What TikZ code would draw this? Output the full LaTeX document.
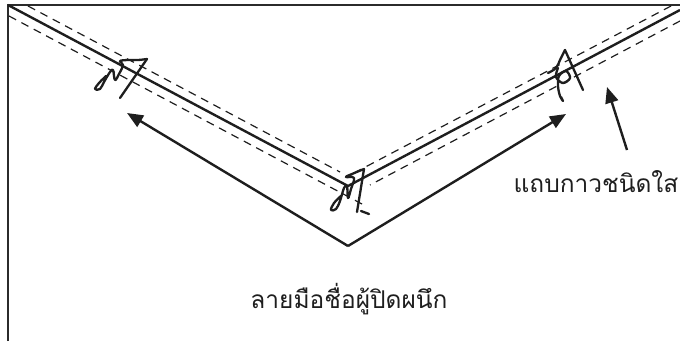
\documentclass[tikz,border=0pt]{standalone}
\usepackage{fontspec}
\newfontfamily\thaifont[Script=Thai]{Loma}
\usetikzlibrary{arrows.meta}
\definecolor{ink}{HTML}{1E1E1E}
\definecolor{frame}{HTML}{2B2B2B}
\tikzset{
  framestyle/.style={draw=frame,line width=2.8pt},
  creaseline/.style={draw=ink,line width=2.4pt},
  tapeedge/.style={draw=ink,line width=1.2pt,dash pattern=on 8pt off 6pt},
  pointer/.style={draw=ink,line width=2.4pt,-{Triangle[length=16pt,width=13pt]}},
  signature/.style={draw=ink,line width=2.3pt,line cap=round,line join=round},
  labeltext/.style={text=ink,font=\thaifont\fontsize{24.5pt}{28pt}\selectfont,inner sep=0pt}
}
\begin{document}
\begin{tikzpicture}[x=1pt,y=-1pt]
\useasboundingbox (0,0) rectangle (680,341);
% frame
\coordinate (fb) at (8,341);
\coordinate (fc) at (8,5);
\coordinate (fr) at (680,5);
\draw[framestyle] (fb) -- (fc) -- (fr);
% crease (solid V)
\coordinate (ls) at (8,5);
\coordinate (v) at (348,186);
\coordinate (rs) at (680,10);
\draw[creaseline] (ls) -- (v) -- (rs);
% tape edges
\coordinate (lu1) at (28,6);
\coordinate (lu2) at (340,172);
\coordinate (ll1) at (9,16);
\coordinate (ll2) at (362,204);
\coordinate (ru1) at (671,6);
\coordinate (ru2) at (354,173);
\coordinate (rl1) at (680,21);
\coordinate (rl2) at (370,185);
\draw[tapeedge] (lu1) -- (lu2);
\draw[tapeedge] (ll1) -- (ll2);
\draw[tapeedge] (ru1) -- (ru2);
\draw[tapeedge] (rl1) -- (rl2);
% outer V arrows
\coordinate (ov) at (348,246);
\coordinate (la) at (127,113);
\coordinate (ra) at (566,114);
\draw[pointer] (ov) -- (la);
\draw[pointer] (ov) -- (ra);
% signatures
\draw[signature] plot[smooth,tension=0.6] coordinates {(106,76) (99,83) (95,89) (100,89) (104,82) (110,72) (113,70) (115,80) (119,74) (123,65) (120,61) (128,60) (138,60) (147,59)};
\draw[signature] (147,59) -- (120,98);
\draw[signature] plot[smooth,tension=0.6] coordinates {(342,195) (334,203) (331,210) (336,209) (340,201) (344,188) (347,186) (348,198) (351,189) (354,178) (346,177) (352,174) (364,169)};
\draw[signature] (364,169) -- (357,212);
\draw[signature] (361,211) -- (369,214);
\draw[signature] plot[smooth,tension=0.6] coordinates {(548,73) (556,68) (560,60) (565,50)};
\draw[signature] (565,50) -- (583,90);
\draw[signature] plot[smooth,tension=0.6] coordinates {(558,68) (556,77) (563,83) (570,78) (566,71) (559,76) (558,86) (560,96) (563,101) (561,97)};
% label arrow
\coordinate (ta) at (627,150);
\coordinate (tb) at (607,87);
\draw[pointer] (ta) -- (tb);
% labels
\node[labeltext,anchor=base] (tape) at (596,192) {แถบกาวชนิดใส};
\node[labeltext,anchor=base] (sig) at (349,308) {ลายมือชื่อผู้ปิดผนึก};
\end{tikzpicture}
\end{document}
